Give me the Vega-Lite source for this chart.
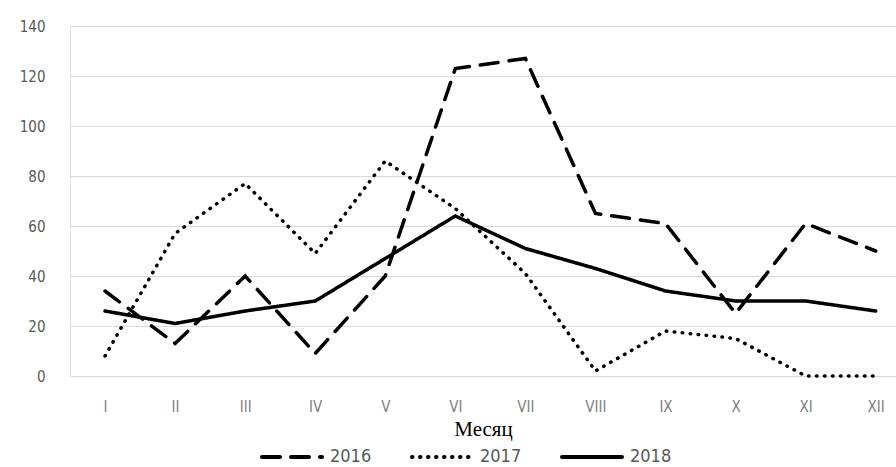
{
  "$schema": "https://vega.github.io/schema/vega-lite/v6.json",
  "width": 826,
  "height": 350,
  "autosize": {"type": "none"},
  "padding": {"left": 70, "top": 26, "right": 0, "bottom": 91},
  "background": "white",
  "data": {
    "values": [
      {"month": 1, "year": "2016", "value": 34},
      {"month": 2, "year": "2016", "value": 13},
      {"month": 3, "year": "2016", "value": 40},
      {"month": 4, "year": "2016", "value": 9},
      {"month": 5, "year": "2016", "value": 40},
      {"month": 6, "year": "2016", "value": 123},
      {"month": 7, "year": "2016", "value": 127},
      {"month": 8, "year": "2016", "value": 65},
      {"month": 9, "year": "2016", "value": 61},
      {"month": 10, "year": "2016", "value": 25},
      {"month": 11, "year": "2016", "value": 61},
      {"month": 12, "year": "2016", "value": 50},
      {"month": 1, "year": "2017", "value": 8},
      {"month": 2, "year": "2017", "value": 57},
      {"month": 3, "year": "2017", "value": 77},
      {"month": 4, "year": "2017", "value": 49},
      {"month": 5, "year": "2017", "value": 86},
      {"month": 6, "year": "2017", "value": 67},
      {"month": 7, "year": "2017", "value": 41},
      {"month": 8, "year": "2017", "value": 2},
      {"month": 9, "year": "2017", "value": 18},
      {"month": 10, "year": "2017", "value": 15},
      {"month": 11, "year": "2017", "value": 0},
      {"month": 12, "year": "2017", "value": 0},
      {"month": 1, "year": "2018", "value": 26},
      {"month": 2, "year": "2018", "value": 21},
      {"month": 3, "year": "2018", "value": 26},
      {"month": 4, "year": "2018", "value": 30},
      {"month": 5, "year": "2018", "value": 47},
      {"month": 6, "year": "2018", "value": 64},
      {"month": 7, "year": "2018", "value": 51},
      {"month": 8, "year": "2018", "value": 43},
      {"month": 9, "year": "2018", "value": 34},
      {"month": 10, "year": "2018", "value": 30},
      {"month": 11, "year": "2018", "value": 30},
      {"month": 12, "year": "2018", "value": 26}
    ]
  },
  "mark": {"type": "line", "color": "black", "strokeWidth": 3.5, "strokeCap": "round"},
  "encoding": {
    "x": {
      "field": "month",
      "type": "quantitative",
      "scale": {"domain": [0.5, 12.29], "nice": false, "zero": false},
      "axis": {
        "values": [1, 2, 3, 4, 5, 6, 7, 8, 9, 10, 11, 12],
        "labelExpr": "['I','II','III','IV','V','VI','VII','VIII','IX','X','XI','XII'][datum.value - 1]",
        "grid": false,
        "domain": false,
        "ticks": false,
        "labelPadding": 23,
        "labelFont": "DejaVu Sans Condensed, Liberation Sans, sans-serif",
        "labelFontSize": 15,
        "labelColor": "#7f7f7f",
        "title": "Месяц",
        "titleFont": "Liberation Serif",
        "titleFontSize": 21,
        "titleFontWeight": "normal",
        "titleColor": "black",
        "titlePadding": 4
      }
    },
    "y": {
      "field": "value",
      "type": "quantitative",
      "scale": {"domain": [0, 140], "nice": false},
      "axis": {
        "values": [0, 20, 40, 60, 80, 100, 120, 140],
        "domain": false,
        "ticks": false,
        "labelPadding": 25,
        "labelFont": "DejaVu Sans Condensed, Liberation Sans, sans-serif",
        "labelFontSize": 15,
        "labelColor": "#595959",
        "gridColor": "#d9d9d9",
        "gridWidth": 1.2,
        "title": null
      }
    },
    "strokeDash": {
      "field": "year",
      "type": "nominal",
      "scale": {"domain": ["2016", "2017", "2018"], "range": [[18, 11], [0.5, 7.5], [1, 0]]},
      "legend": {
        "title": null,
        "orient": "none",
        "direction": "horizontal",
        "legendX": 190,
        "legendY": 399,
        "symbolType": "stroke",
        "symbolSize": 3600,
        "symbolStrokeWidth": 4,
        "symbolStrokeColor": "black",
        "labelFont": "DejaVu Sans Condensed, Liberation Sans, sans-serif",
        "labelFontSize": 18,
        "labelColor": "#595959",
        "labelOffset": 6,
        "columnPadding": 32,
        "encode": {"symbols": {"update": {"strokeCap": {"value": "round"}}}}
      }
    }
  }
}
